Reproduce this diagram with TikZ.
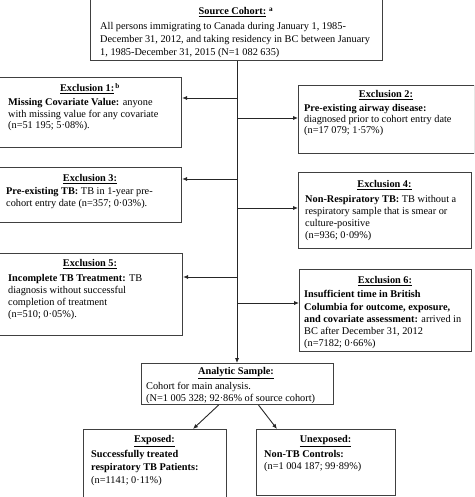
\documentclass[tikz,border=0pt]{standalone}
\usepackage{fontspec}
\setmainfont{Liberation Serif}
\usetikzlibrary{arrows.meta}
\begin{document}
\begin{tikzpicture}[x=1pt,y=-1pt,
  box/.style={draw=black!75, line width=1.1pt, rectangle, inner sep=0pt, anchor=north west},
  ttl/.style={inner sep=0pt, font=\fontsize{10.3}{12}\selectfont\bfseries},
  body/.style={inner sep=0pt, anchor=north west, align=left, font=\fontsize{10.3}{#1}\selectfont},
  body/.default=12,
  arr/.style={line width=0.9pt, draw=black!85, -{Latex[length=5pt,width=4.2pt]}}]
\useasboundingbox (0,0) rectangle (474,497);
\clip (0,0) rectangle (474,497);
% boxes
\node[box, minimum width=292pt, minimum height=62pt] (src) at (90,-2) {};
\node[box, minimum width=183pt, minimum height=70pt] (e1) at (-2,77) {};
\node[box, minimum width=175.5pt, minimum height=68pt] (e2) at (298,85) {};
\node[box, minimum width=183pt, minimum height=55pt] (e3) at (-2,167) {};
\node[box, minimum width=173pt, minimum height=76pt] (e4) at (298,172) {};
\node[box, minimum width=184pt, minimum height=82pt] (e5) at (-2,253) {};
\node[box, minimum width=172pt, minimum height=82pt] (e6) at (299,269) {};
\node[box, minimum width=192pt, minimum height=41pt] (an) at (141,363) {};
\node[box, minimum width=143pt, minimum height=90pt] (ex) at (83,429) {};
\node[box, minimum width=139pt, minimum height=66pt] (un) at (256,429) {};
% titles
\node[ttl] (srct) at (236,12.5) {\underline{Source Cohort:}\,\textsuperscript{\,a}};
\node[ttl] (e1t) at (90,88.5) {\underline{Exclusion 1:}\textsuperscript{\,b}};
\node[ttl] (e2t) at (386,95.5) {\underline{Exclusion 2:}};
\node[ttl] (e3t) at (90,178.8) {\underline{Exclusion 3:}};
\node[ttl] (e4t) at (384.5,184.8) {\underline{Exclusion 4:}};
\node[ttl] (e5t) at (90,263.8) {\underline{Exclusion 5:}};
\node[ttl] (e6t) at (385,281.2) {\underline{Exclusion 6:}};
\node[ttl] (ant) at (236,373.5) {\underline{Analytic Sample:}};
\node[ttl] (ext) at (154.5,441.5) {\underline{Exposed:}};
\node[ttl] (unt) at (325.5,441.5) {\underline{Unexposed:}};
% bodies
\node[body=13] (srcb) at (100,22) {All persons immigrating to Canada during January 1, 1985-\\December 31, 2012, and taking residency in BC between January\\1, 1985-December 31, 2015 (N=1 082 635)};
\node[body=11.2] (e1b) at (8,98.5) {\textbf{Missing Covariate Value:} anyone\\with missing value for any covariate\\(n=51 195; 5·08\%).};
\node[body=11.4] (e2b) at (304,103.7) {\textbf{Pre-existing airway disease:}\\diagnosed prior to cohort entry date\\(n=17 079; 1·57\%)};
\node[body=11.7] (e3b) at (6,187) {\textbf{Pre-existing TB:} TB in 1-year pre-\\cohort entry date (n=357; 0·03\%).};
\node[body=12.2] (e4b) at (305,194.7) {\textbf{Non-Respiratory TB:} TB without a\\respiratory sample that is smear or\\culture-positive\\(n=936; 0·09\%)};
\node[body=12] (e5b) at (8,274.3) {\textbf{Incomplete TB Treatment:} TB\\diagnosis without successful\\completion of treatment\\(n=510; 0·05\%).};
\node[body=12.3] (e6b) at (304,290.3) {\textbf{Insufficient time in British}\\\textbf{Columbia for outcome, exposure,}\\\textbf{and covariate assessment:} arrived in\\BC after December 31, 2012\\(n=7182; 0·66\%)};
\node[body=12.3] (anb) at (146,382) {Cohort for main analysis.\\(N=1 005 328; 92·86\% of source cohort)};
\node[body=12.7] (exb) at (91,450.3) {\textbf{Successfully treated}\\\textbf{respiratory TB Patients:}\\(n=1141; 0·11\%)};
\node[body=12] (unb) at (264,450.3) {\textbf{Non-TB Controls:}\\(n=1 004 187; 99·89\%)};
% spine and branches
\coordinate (sp) at (237,0);
\coordinate (j1) at (237,98);
\coordinate (j2) at (237,118);
\coordinate (j3) at (237,179);
\coordinate (j4) at (237,208);
\coordinate (j5) at (237,277);
\coordinate (j6) at (237,303);
\draw[arr] (src.south -| sp) -- (an.north -| sp);
\draw[arr] (j1) -- (j1 -| e1.east);
\draw[arr] (j2) -- (j2 -| e2.west);
\draw[arr] (j3) -- (j3 -| e3.east);
\draw[arr] (j4) -- (j4 -| e4.west);
\draw[arr] (j5) -- (j5 -| e5.east);
\draw[arr] (j6) -- (j6 -| e6.west);
\draw[arr] ([xshift=-19pt]an.south) -- ([xshift=110pt]ex.north west);
\draw[arr] ([xshift=21pt]an.south) -- ([xshift=21pt]un.north west);
\end{tikzpicture}
\end{document}
